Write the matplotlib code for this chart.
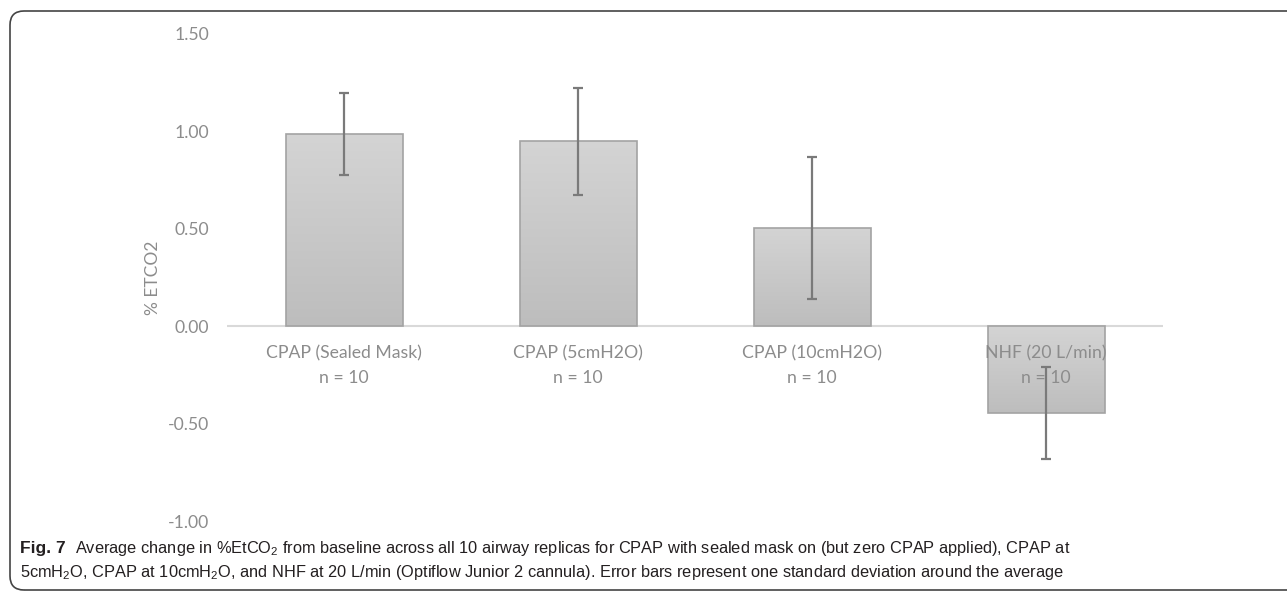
import numpy as np
import matplotlib
matplotlib.use("Agg")
import matplotlib.pyplot as plt
from matplotlib.patches import FancyBboxPatch
from matplotlib.transforms import offset_copy

# Data
categories = ["CPAP (Sealed Mask)", "CPAP (5cmH2O)", "CPAP (10cmH2O)", "NHF (20 L/min)"]
n_values = [10, 10, 10, 10]
means = [0.985, 0.95, 0.505, -0.445]
sds = [0.21, 0.275, 0.365, 0.235]
yticks = [-1.0, -0.5, 0.0, 0.5, 1.0, 1.5]

GREY_TXT = "#8c8c8c"
caption_font = ["Liberation Sans", "DejaVu Sans"]
plt.rcParams["mathtext.fontset"] = "custom"
plt.rcParams["mathtext.rm"] = "Liberation Sans"
plt.rcParams["mathtext.it"] = "Liberation Sans"


def gradient_bars(ax, bars):
    """Fill each bar with a light-to-dark vertical gradient like the Excel original."""
    grad = np.linspace(0, 1, 256).reshape(-1, 1)
    cmap = matplotlib.colors.LinearSegmentedColormap.from_list("g", ["#d4d4d4", "#bdbdbd"])
    for b in bars:
        x0, y0 = b.get_x(), b.get_y()
        w, h = b.get_width(), b.get_height()
        top, bottom = max(y0, y0 + h), min(y0, y0 + h)
        im = ax.imshow(grad, cmap=cmap, aspect="auto", extent=(x0, x0 + w, bottom, top),
                       origin="upper", zorder=1)
        im.set_clip_path(b)
        b.set_facecolor("none")


def main():
    fig = plt.figure(figsize=(12.87, 5.92), dpi=100)

    # rounded frame around the figure panel
    frame = FancyBboxPatch((10, 2), 1320, 579, boxstyle="round,pad=0,rounding_size=14",
                           transform=None, fill=False, edgecolor="#444444", linewidth=1.2)
    fig.patches.append(frame)

    ax = fig.add_axes([227 / 1287, 71 / 592, 936 / 1287, 487 / 592])
    x = np.arange(len(categories))
    bars = ax.bar(x, means, width=0.5, edgecolor="#a3a3a3", linewidth=1.2, zorder=2)
    gradient_bars(ax, bars)

    ax.axhline(0, color="#d9d9d9", linewidth=1.5, zorder=0)

    # category labels hanging just under the zero line
    for xi, cat, n in zip(x, categories, n_values):
        tr = offset_copy(ax.transData, fig=fig, x=0, y=-14, units="points")
        ax.text(xi, 0, f"{cat}\nn = {n}", transform=tr, ha="center", va="top",
                fontsize=12.7, color=GREY_TXT, family="Lato", linespacing=1.6, zorder=3)

    ax.errorbar(x, means, yerr=sds, fmt="none", ecolor="#7a7a7a", elinewidth=1.6,
                capsize=3.8, capthick=1.6, zorder=4)

    ax.set_xlim(-0.5, len(categories) - 0.5)
    ax.set_ylim(-1.0, 1.5)
    ax.set_yticks(yticks)
    ax.set_yticklabels([f"{t:.2f}" for t in yticks], family="Lato", fontsize=12.7, color=GREY_TXT)
    ax.tick_params(axis="y", length=0, pad=13)
    ax.set_xticks([])
    for s in ax.spines.values():
        s.set_visible(False)
    ax.set_ylabel("% ETCO2", family="Lato", fontsize=12.5, color=GREY_TXT)
    ax.yaxis.set_label_coords(-0.071, 0.5)

    # caption
    fig.canvas.draw()
    r = fig.canvas.get_renderer()
    t1 = fig.text(20 / 1287, 1 - 553 / 592, "Fig. 7", family=caption_font, fontsize=12.5,
                  fontweight="bold", color="#231f20", va="baseline")
    bb = t1.get_window_extent(r)
    fig.text((bb.x1 + 9) / 1287, 1 - 553 / 592,
             "Average change in %EtCO$_2$ from baseline across all 10 airway replicas for CPAP "
             "with sealed mask on (but zero CPAP applied), CPAP at",
             family=caption_font, fontsize=11.8, color="#231f20", va="baseline")
    fig.text(20 / 1287, 1 - 577 / 592,
             "5cmH$_2$O, CPAP at 10cmH$_2$O, and NHF at 20 L/min (Optiflow Junior 2 cannula). "
             "Error bars represent one standard deviation around the average",
             family=caption_font, fontsize=11.8, color="#231f20", va="baseline")

    fig.savefig("out.png", dpi=100)


if __name__ == "__main__":
    main()
